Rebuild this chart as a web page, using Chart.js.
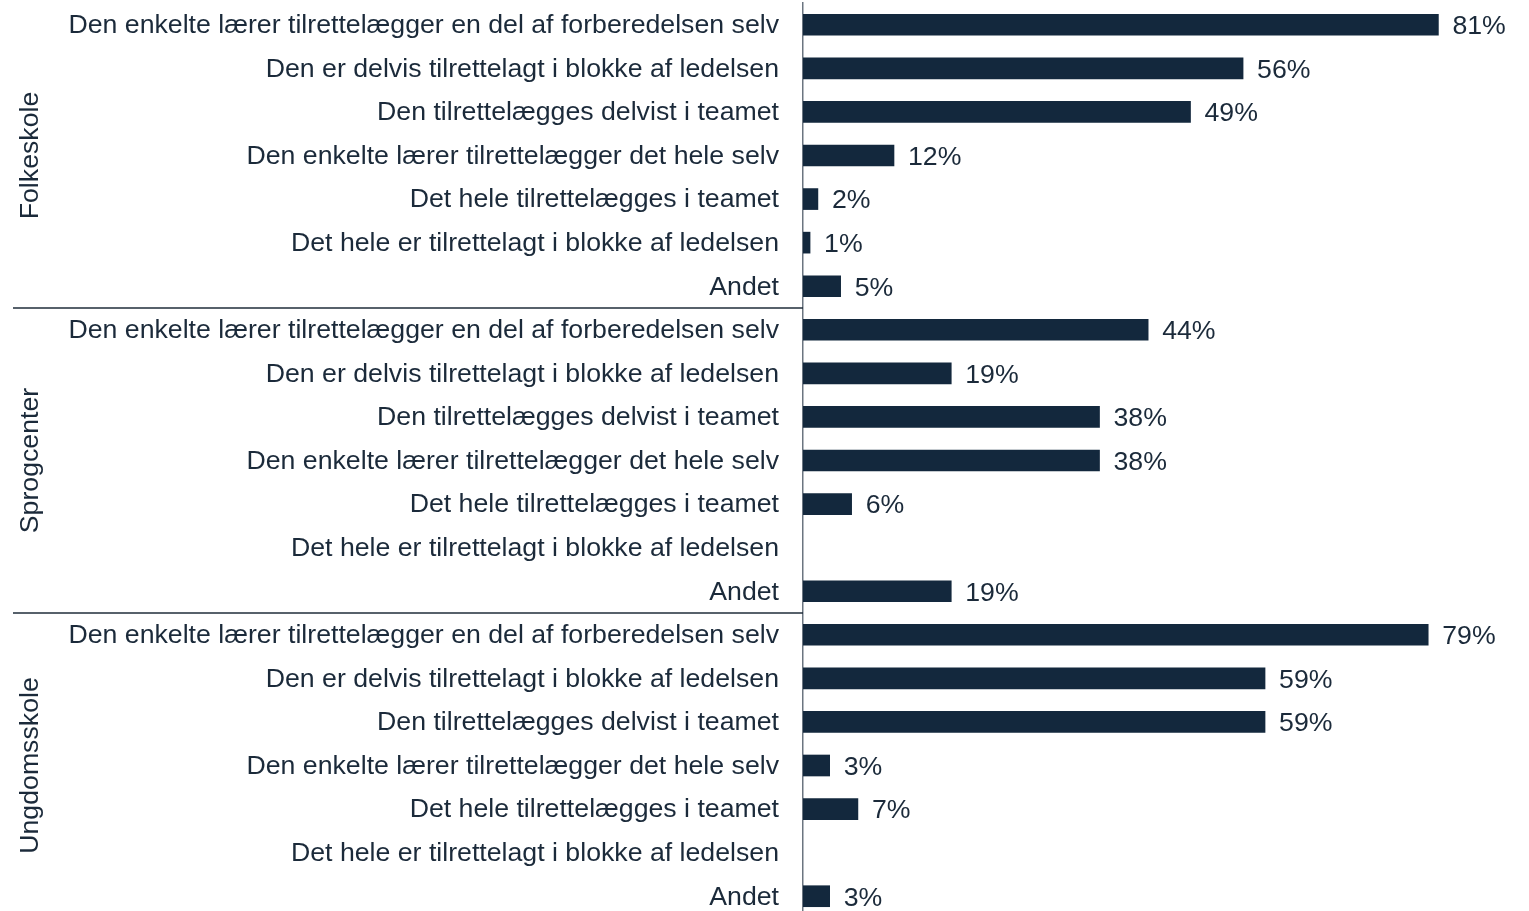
<!DOCTYPE html>
<html>
<head>
<meta charset="utf-8">
<script src="https://cdn.jsdelivr.net/npm/chart.js@4.4.0/dist/chart.umd.min.js"></script>
<style>
  html, body { margin: 0; padding: 0; background: #fff; overflow: hidden; }
  #wrap { width: 1529px; height: 918px; }
</style>
</head>
<body>
<div id="wrap"><canvas id="chart"></canvas></div>
<script>
// --- Data ---
const groups = ['Folkeskole', 'Sprogcenter', 'Ungdomsskole'];
const answers = [
    'Den enkelte lærer tilrettelægger en del af forberedelsen selv',
    'Den er delvis tilrettelagt i blokke af ledelsen',
    'Den tilrettelægges delvist i teamet',
    'Den enkelte lærer tilrettelægger det hele selv',
    'Det hele tilrettelægges i teamet',
    'Det hele er tilrettelagt i blokke af ledelsen',
    'Andet'
];
// bar lengths (percent)
const folkeskoleValues = [81, 56.1, 49.4, 11.6, 1.9, 0.9, 4.8];
const sprogcenterValues = [44, 18.9, 37.8, 37.8, 6.2, null, 18.9];
const ungdomsskoleValues = [79.7, 58.9, 58.9, 3.4, 7, null, 3.4];
// printed labels
const folkeskoleLabels = ['81%', '56%', '49%', '12%', '2%', '1%', '5%'];
const sprogcenterLabels = ['44%', '19%', '38%', '38%', '6%', '', '19%'];
const ungdomsskoleLabels = ['79%', '59%', '59%', '3%', '7%', '', '3%'];

const TEXT_COLOR = '#1b2a3a';
const BAR_COLOR = '#13283d';
const FONT = 'Arial, "Liberation Sans", sans-serif';
const FONT_SIZE = 26.7;

// flatten into one category axis
const labels = [].concat(answers, answers, answers);
const values = [].concat(folkeskoleValues, sprogcenterValues, ungdomsskoleValues);
const valueTexts = [].concat(folkeskoleLabels, sprogcenterLabels, ungdomsskoleLabels);

// --- Plugins ---
// percent labels right of each bar
const valueLabels = {
    id: 'valueLabels',
    afterDatasetsDraw(chart) {
        const ctx = chart.ctx;
        const meta = chart.getDatasetMeta(0);
        ctx.save();
        ctx.font = FONT_SIZE + 'px ' + FONT;
        ctx.fillStyle = TEXT_COLOR;
        ctx.textAlign = 'left';
        ctx.textBaseline = 'middle';
        meta.data.forEach((bar, i) => {
            if (values[i] === null || !valueTexts[i]) return;
            ctx.fillText(valueTexts[i], bar.x + 14, bar.y + 2);
        });
        ctx.restore();
    }
};

// rotated group names and separator lines
const groupLabels = {
    id: 'groupLabels',
    afterDraw(chart) {
        const ctx = chart.ctx;
        const y = chart.scales.y;
        const n = answers.length;
        ctx.save();
        groups.forEach((g, gi) => {
            const first = y.getPixelForValue(gi * n);
            const last = y.getPixelForValue(gi * n + n - 1);
            const mid = (first + last) / 2;
            ctx.save();
            ctx.translate(31, mid);
            ctx.rotate(-Math.PI / 2);
            ctx.font = FONT_SIZE + 'px ' + FONT;
            ctx.fillStyle = TEXT_COLOR;
            ctx.textAlign = 'center';
            ctx.textBaseline = 'middle';
            ctx.fillText(g, 0, 0);
            ctx.restore();
            if (gi > 0) {
                const sep = (y.getPixelForValue(gi * n - 1) + first) / 2;
                ctx.strokeStyle = '#1f2d3a';
                ctx.lineWidth = 1.5;
                ctx.beginPath();
                ctx.moveTo(13, sep);
                ctx.lineTo(chart.chartArea.left, sep);
                ctx.stroke();
            }
        });
        ctx.restore();
    }
};

// --- Chart ---
new Chart(document.getElementById('chart').getContext('2d'), {
    type: 'bar',
    data: {
        labels: labels,
        datasets: [{
            data: values,
            backgroundColor: BAR_COLOR,
            barThickness: 21,
            borderWidth: 0
        }]
    },
    options: {
        indexAxis: 'y',
        responsive: true,
        maintainAspectRatio: false,
        animation: false,
        layout: { padding: { top: 3, right: 20, bottom: 0, left: 0 } },
        scales: {
            x: {
                display: false,
                min: 0,
                max: 90
            },
            y: {
                afterFit(scale) {
                    scale.width = 803;
                    scale.paddingTop = 0;
                    scale.paddingBottom = 0;
                },
                grid: { display: false },
                border: { display: true, color: '#6b7580', width: 1.5 },
                ticks: {
                    autoSkip: false,
                    padding: 16,
                    labelOffset: 1,
                    color: TEXT_COLOR,
                    font: { size: FONT_SIZE, family: FONT }
                }
            }
        },
        plugins: {
            legend: { display: false },
            tooltip: { enabled: false },
            title: { display: false }
        }
    },
    plugins: [valueLabels, groupLabels]
});
</script>
</body>
</html>
